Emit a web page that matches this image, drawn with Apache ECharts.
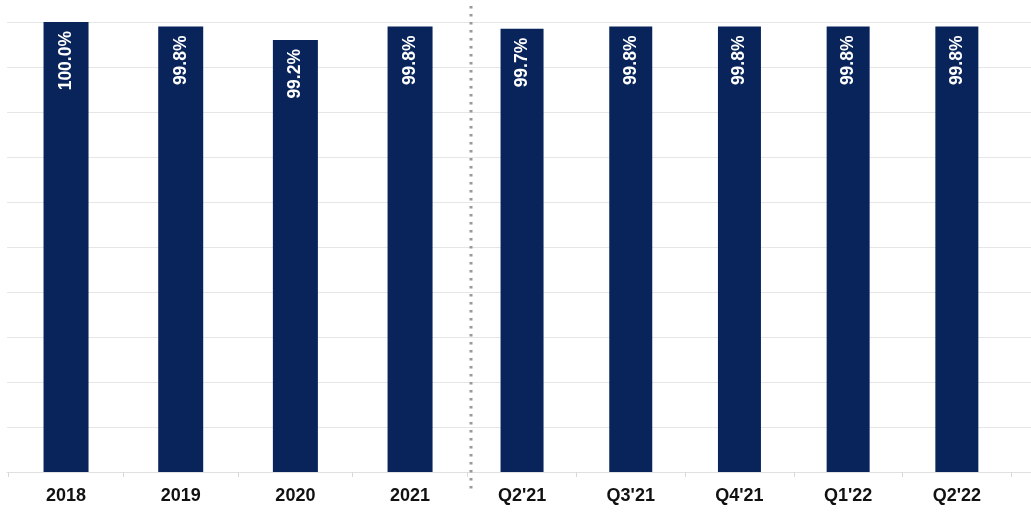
<!DOCTYPE html>
<html>
<head>
<meta charset="utf-8">
<script src="https://cdn.jsdelivr.net/npm/echarts@6/dist/echarts.min.js"></script>
<style>
html,body{margin:0;padding:0;background:#fff;}
#chart{width:1031px;height:514px;}
</style>
</head>
<body>
<div id="chart"></div>
<script>
// Data
const annualCategories = ['2018', '2019', '2020', '2021'];
const annualValues = [100.0, 99.8, 99.2, 99.8];
const quarterCategories = ["Q2'21", "Q3'21", "Q4'21", "Q1'22", "Q2'22"];
const quarterValues = [99.7, 99.8, 99.8, 99.8, 99.8];
const yMin = 80, yMax = 100, yInterval = 2;

const navy = '#08245a';
const gridColor = '#e6e6e6';
const fontFamily = '"Liberation Sans", Arial, sans-serif';

const chart = echarts.init(document.getElementById('chart'), null, {renderer: 'canvas'});

const labelCfg = {
  show: true,
  position: 'insideTop',
  rotate: 90,
  align: 'right',
  verticalAlign: 'middle',
  distance: 9,
  color: '#ffffff',
  fontWeight: 'bold',
  fontSize: 17.5,
  fontFamily: fontFamily,
  formatter: p => p.value.toFixed(1) + '%'
};

const catAxisCommon = {
  type: 'category',
  axisLine: {show: false},
  axisTick: {show: true, alignWithLabel: false, length: 5, lineStyle: {color: '#d9d9d9'}},
  axisLabel: {color: '#111', fontWeight: 'bold', fontSize: 18, fontFamily: fontFamily, margin: 15, interval: 0},
  splitLine: {show: false}
};

const valAxisCommon = {
  type: 'value', min: yMin, max: yMax, interval: yInterval,
  axisLine: {show: false}, axisTick: {show: false}, axisLabel: {show: false}
};

chart.setOption({
  animation: false,
  backgroundColor: '#ffffff',
  grid: [
    {left: 7, right: 0, top: 22, bottom: 42},          // background gridlines
    {left: 8.7, width: 458.7, top: 22, bottom: 42},     // annual
    {left: 467.7, width: 543.5, top: 22, bottom: 42}    // quarterly
  ],
  xAxis: [
    {type: 'category', gridIndex: 0, data: [''], axisLabel: {show: false}, axisTick: {show: false},
     axisLine: {show: true, lineStyle: {color: '#e0e0e0', width: 1}}},
    Object.assign({gridIndex: 1, data: annualCategories}, catAxisCommon),
    Object.assign({gridIndex: 2, data: quarterCategories}, catAxisCommon)
  ],
  yAxis: [
    Object.assign({gridIndex: 0, splitLine: {show: true, lineStyle: {color: gridColor, width: 1}}}, valAxisCommon),
    Object.assign({gridIndex: 1, splitLine: {show: false}}, valAxisCommon),
    Object.assign({gridIndex: 2, splitLine: {show: false}}, valAxisCommon)
  ],
  series: [
    {type: 'bar', xAxisIndex: 1, yAxisIndex: 1, data: annualValues, barWidth: 45,
     itemStyle: {color: navy}, label: labelCfg},
    {type: 'bar', xAxisIndex: 2, yAxisIndex: 2, data: quarterValues, barWidth: 43,
     itemStyle: {color: navy}, label: labelCfg}
  ],
  graphic: [
    {type: 'line', shape: {x1: 471, y1: 6, x2: 471, y2: 492}, z: 10,
     style: {stroke: '#999999', lineWidth: 3, lineDash: [2.5, 5.5]}}
  ]
});
</script>
</body>
</html>
